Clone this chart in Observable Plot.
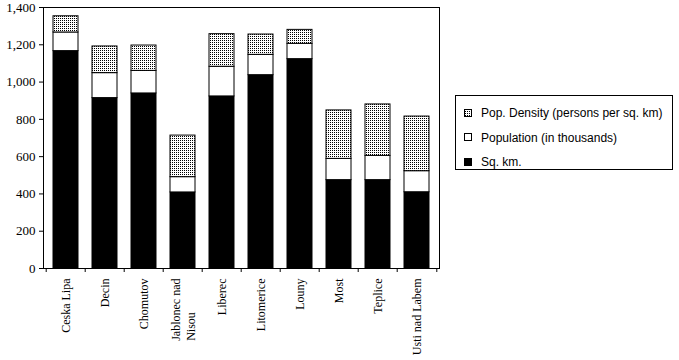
<!DOCTYPE html>
<html>
<head>
<meta charset="utf-8">
<script src="https://cdn.jsdelivr.net/npm/d3@7"></script>
<script src="https://cdn.jsdelivr.net/npm/@observablehq/plot@0.6"></script>
<style>
  html, body { margin: 0; padding: 0; background: #fff; }
  #wrap { position: relative; width: 679px; height: 360px; overflow: hidden; }
  #legend { position: absolute; left: 455px; top: 95px; }
  #wrap svg.chart text { font-family: 'Liberation Serif', 'Times New Roman', serif; }
</style>
</head>
<body>
<svg width="0" height="0" style="position:absolute">
  <defs>
    <pattern id="dots" width="2" height="2" patternUnits="userSpaceOnUse">
      <rect width="2" height="2" fill="#fff"></rect>
      <rect width="1" height="1" fill="#000"></rect>
    </pattern>
  </defs>
</svg>
<div id="wrap"></div>
<script>
const districts = ["Ceska Lipa", "Decin", "Chomutov", "Jablonec nad Nisou", "Liberec", "Litomerice", "Louny", "Most", "Teplice", "Usti nad Labem"];
const sqKm = [1166, 914, 939, 408, 923, 1037, 1123, 474, 474, 409];
const population = [100, 134, 121, 82, 159, 109, 82, 114, 130, 113];
const density = [87, 143, 136, 223, 175, 109, 75, 260, 276, 293];
const seriesNames = ["Sq. km.", "Population (in thousands)", "Pop. Density (persons per sq. km)"];
const seriesFills = ["#000", "#fff", "url(#dots)"];
const yTicks = [0, 200, 400, 600, 800, 1000, 1200, 1400];

const seriesValues = [sqKm, population, density];
const rows = [];
districts.forEach((d, i) => {
  seriesNames.forEach((s, k) => rows.push({district: d, series: s, value: seriesValues[k][i]}));
});

const W = 679, H = 360, mL = 43, mR = 240, mT = 7, mB = 92;
const pInner = 0.35, pOuter = 0.175;
const step = (W - mL - mR) / (districts.length - pInner + 2 * pOuter);

const serif = "'Liberation Serif', 'Times New Roman', serif";
const jab = "Jablonec nad Nisou";
const canvas = document.createElement("canvas");
const ctx = canvas.getContext("2d");
ctx.font = "12px 'Liberation Serif'";
const jabW = ctx.measureText("Jablonec nad").width;

const chart = Plot.plot({
  width: W, height: H,
  marginLeft: mL, marginRight: mR, marginTop: mT, marginBottom: mB,
  className: "chart",
  style: {background: "#fff", color: "#000", fontFamily: serif},
  x: {domain: districts, paddingInner: pInner, paddingOuter: pOuter, axis: null, label: null},
  y: {domain: [0, 1400], axis: null, label: null},
  color: {type: "ordinal", domain: seriesNames, range: seriesFills},
  marks: [
    Plot.barY(rows, {x: "district", y: "value", fill: "series", stroke: "#000", strokeWidth: 1}),
    Plot.frame({stroke: "#000"}),
    Plot.axisY({ticks: yTicks, label: null, tickSize: 4, tickPadding: 4, tickFormat: d3.format(","), fontSize: 13, fontFamily: serif, stroke: "#000"}),
    Plot.ruleX(districts, {x: d => d, y1: 0, y2: 0, insetBottom: -4, dx: -step / 2, stroke: "#000"}),
    Plot.ruleX(districts.slice(-1), {x: d => d, y1: 0, y2: 0, insetBottom: -4, dx: step / 2, stroke: "#000"}),
    Plot.axisX({label: null, tickSize: 0, tickPadding: 10, tickRotate: -90, textAnchor: "end", fontSize: 12, fontFamily: serif,
      tickFormat: d => d === jab ? "" : d}),
    Plot.text([jab], {x: d => d, text: () => "Jablonec nad\nNisou", frameAnchor: "bottom", rotate: -90,
      textAnchor: "start", lineAnchor: "middle", lineHeight: 1.25, dy: 10 + jabW, fontSize: 12, fontFamily: serif, fill: "#000"})
  ]
});
chart.classList.add("chart");
document.getElementById("wrap").appendChild(chart);

// legend
const legend = d3.select("#wrap").append("svg").attr("id", "legend").attr("width", 218).attr("height", 75);
legend.append("rect").attr("x", 0.5).attr("y", 0.5).attr("width", 217).attr("height", 74).attr("fill", "#fff").attr("stroke", "#000");
const legendOrder = [2, 1, 0];
legendOrder.forEach((k, j) => {
  const cy = 17.5 + j * 24.7;
  legend.append("rect").attr("x", 9.5).attr("y", Math.round(cy - 4) + 0.5).attr("width", 7).attr("height", 7)
    .attr("fill", seriesFills[k]).attr("stroke", "#000");
  legend.append("text").attr("x", 26).attr("y", cy + 4.5).attr("font-family", "'Liberation Sans', Arial, sans-serif")
    .attr("font-size", 12).attr("fill", "#000").text(seriesNames[k]);
});
</script>
</body>
</html>
